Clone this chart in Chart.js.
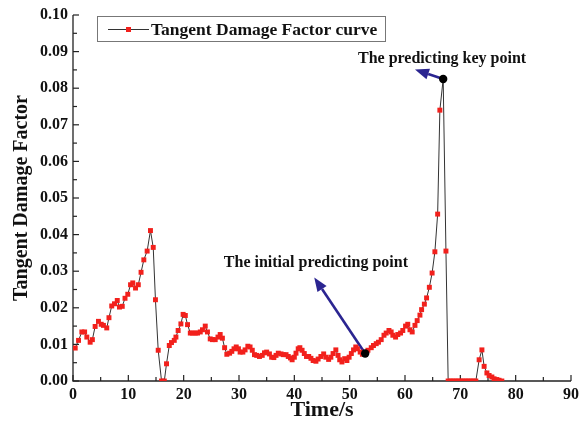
<!DOCTYPE html>
<html>
<head>
<meta charset="utf-8">
<script src="https://cdn.jsdelivr.net/npm/chart.js@4.4.0/dist/chart.umd.min.js"></script>
<style>
html,body{margin:0;padding:0;background:#fff}
</style>
</head>
<body>
<canvas id="myChart" width="585" height="422"></canvas>
<script>
// data
const times = [
    0.4,1.0,1.6,2.1,2.5,3.1,3.5,4.0,4.6,5.1,5.5,6.1,6.5,7.0,7.5,8.0,8.4,8.9,9.4,9.9,
    10.4,10.8,11.3,11.8,12.3,12.8,13.4,14.0,14.5,14.9,15.4,16.0,16.5,16.9,17.4,17.8,18.3,18.6,19.0,19.5,
    19.9,20.3,20.7,21.2,21.6,22.1,22.5,23.0,23.4,23.9,24.3,24.8,25.2,25.7,26.2,26.6,27.0,27.4,27.8,28.3,
    28.7,29.1,29.5,29.9,30.2,30.7,31.1,31.6,32.0,32.4,32.8,33.2,33.7,34.2,34.6,35.0,35.5,35.9,36.3,36.7,
    37.1,37.6,38.0,38.5,38.9,39.3,39.6,40.0,40.3,40.7,41.0,41.4,41.8,42.2,42.6,43.0,43.4,43.9,44.3,44.8,
    45.3,45.7,46.2,46.6,47.0,47.5,47.9,48.2,48.6,49.1,49.5,49.9,50.3,50.7,51.1,51.4,51.9,52.3,52.8,53.3,
    53.9,54.3,54.8,55.2,55.7,56.2,56.6,57.1,57.5,57.8,58.3,58.7,59.2,59.6,60.1,60.5,60.9,61.3,61.8,62.2,
    62.7,63.0,63.5,63.9,64.4,64.9,65.4,65.9,66.3,66.9,67.4,67.8,68.3,68.7,69.2,69.6,70.1,70.5,71.0,71.4,
    71.9,72.3,72.8,73.4,73.9,74.3,74.8,75.2,75.7,76.1,76.6,77.0,77.5
]
const damage = [
    0.0090,0.0111,0.0134,0.0134,0.0120,0.0106,0.0113,0.0149,0.0163,0.0155,0.0152,0.0145,0.0173,0.0205,0.0211,0.0220,0.0202,0.0204,0.0226,0.0237,
    0.0263,0.0268,0.0254,0.0263,0.0297,0.0331,0.0355,0.0411,0.0365,0.0222,0.0084,0,0,0.0047,0.0097,0.0105,0.0111,0.0120,0.0138,0.0156,
    0.0182,0.0179,0.0154,0.0131,0.0131,0.0131,0.0131,0.0134,0.0140,0.0150,0.0134,0.0115,0.0113,0.0113,0.0120,0.0127,0.0117,0.0091,0.0073,0.0076,
    0.0081,0.0088,0.0093,0.0088,0.0079,0.0079,0.0085,0.0095,0.0093,0.0084,0.0072,0.0070,0.0067,0.0070,0.0077,0.0079,0.0074,0.0065,0.0064,0.0070,
    0.0076,0.0074,0.0072,0.0072,0.0067,0.0063,0.0058,0.0065,0.0076,0.0088,0.0091,0.0084,0.0075,0.0067,0.0067,0.0062,0.0056,0.0054,0.0060,0.0067,
    0.0074,0.0065,0.0059,0.0065,0.0075,0.0085,0.0070,0.0058,0.0052,0.0061,0.0056,0.0065,0.0075,0.0085,0.0093,0.0088,0.0079,0.0073,0.0075,0.0084,
    0.0091,0.0097,0.0102,0.0106,0.0113,0.0125,0.0131,0.0138,0.0134,0.0125,0.0120,0.0127,0.0131,0.0138,0.0150,0.0155,0.0140,0.0134,0.0152,0.0165,
    0.0180,0.0195,0.0210,0.0227,0.0256,0.0295,0.0353,0.0456,0.0740,0.0825,0.0355,0,0,0,0,0,0,0,0,0,
    0,0,0,0.0058,0.0085,0.0040,0.0022,0.0015,0.0011,0.0006,0.0004,0.0002,0
]
// the two marked points (initial predicting point, key point)
const keyTimes = [52.8, 66.9]
const keyValues = [0.0075, 0.0825]
// where the arrows point to and where their captions sit
const noteTexts = ['The initial predicting point', 'The predicting key point']
const arrowTipX = [43.6, 61.8]
const arrowTipY = [0.0283, 0.0851]
const noteX = [43.9, 66.7]
const noteY = [0.0323, 0.0879]

const seriesLabel = 'Tangent Damage Factor curve'
const serif = '"Liberation Serif", "Times New Roman", serif'
const red = '#f2201c'
const navy = '#2b2591'

const ctx = document.getElementById('myChart').getContext('2d')

// axes with inward ticks (major + minor)
const axesPlugin = {
    id:'axes',
    beforeDatasetsDraw(chart){
        const {ctx, chartArea:a, scales:{x,y}} = chart
        ctx.save()
        ctx.strokeStyle = '#222'
        ctx.lineWidth = 1.3
        ctx.beginPath()
        ctx.moveTo(a.left, a.top)
        ctx.lineTo(a.left, a.bottom)
        ctx.lineTo(a.right, a.bottom)
        ctx.stroke()
        ctx.lineWidth = 1.2
        const xt = x.ticks.map(t=>t.value)
        xt.forEach((v,i)=>{
            const px = x.getPixelForValue(v)
            ctx.beginPath(); ctx.moveTo(px, a.bottom); ctx.lineTo(px, a.bottom-6); ctx.stroke()
            if(i < xt.length-1){
                const mx = x.getPixelForValue((v+xt[i+1])/2)
                ctx.beginPath(); ctx.moveTo(mx, a.bottom); ctx.lineTo(mx, a.bottom-4); ctx.stroke()
            }
        })
        const yt = y.ticks.map(t=>t.value)
        yt.forEach((v,i)=>{
            const py = y.getPixelForValue(v)
            ctx.beginPath(); ctx.moveTo(a.left, py); ctx.lineTo(a.left+6, py); ctx.stroke()
            if(i < yt.length-1){
                const my = y.getPixelForValue((v+yt[i+1])/2)
                ctx.beginPath(); ctx.moveTo(a.left, my); ctx.lineTo(a.left+4, my); ctx.stroke()
            }
        })
        // arrows from the marked points
        keyTimes.forEach((t,i)=>{
            const x0 = x.getPixelForValue(t), y0 = y.getPixelForValue(keyValues[i])
            const x1 = x.getPixelForValue(arrowTipX[i]), y1 = y.getPixelForValue(arrowTipY[i])
            const ang = Math.atan2(y1-y0, x1-x0)
            const hl = 14, hw = 5.5
            const bx = x1 - hl*Math.cos(ang), by = y1 - hl*Math.sin(ang)
            ctx.strokeStyle = navy
            ctx.fillStyle = navy
            ctx.lineWidth = 2.6
            ctx.beginPath(); ctx.moveTo(x0,y0); ctx.lineTo(bx,by); ctx.stroke()
            ctx.beginPath()
            ctx.moveTo(x1,y1)
            ctx.lineTo(bx + hw*Math.sin(ang), by - hw*Math.cos(ang))
            ctx.lineTo(bx - hw*Math.sin(ang), by + hw*Math.cos(ang))
            ctx.closePath(); ctx.fill()
        })
        ctx.restore()
    },
    afterDatasetsDraw(chart){
        const {ctx, chartArea:a, scales:{x,y}} = chart
        ctx.save()
        ctx.fillStyle = '#111'
        ctx.font = 'bold 16px ' + serif
        ctx.textAlign = 'center'
        ctx.textBaseline = 'middle'
        noteTexts.forEach((s,i)=>{
            ctx.fillText(s, x.getPixelForValue(noteX[i]), y.getPixelForValue(noteY[i]))
        })
        // legend box
        const lx = a.left + 24, ly = a.top + 1, lw = 288, lh = 25
        ctx.fillStyle = '#fff'
        ctx.fillRect(lx, ly, lw, lh)
        ctx.strokeStyle = '#777'
        ctx.lineWidth = 1
        ctx.strokeRect(lx+0.5, ly+0.5, lw, lh)
        const cy = ly + lh/2 + 1
        ctx.strokeStyle = '#333'
        ctx.beginPath(); ctx.moveTo(lx+11, cy); ctx.lineTo(lx+52, cy); ctx.stroke()
        ctx.fillStyle = red
        ctx.fillRect(lx+29, cy-2.5, 5, 5)
        ctx.fillStyle = '#111'
        ctx.font = 'bold 17.5px ' + serif
        ctx.textAlign = 'left'
        ctx.fillText(seriesLabel, lx+54, cy+1)
        ctx.restore()
    }
}

const data = {
    datasets:[{
        label: seriesLabel,
        data: times.map((t,i)=>({x:t, y:damage[i]})),
        borderColor:'#333',
        borderWidth:1,
        pointStyle:'rect',
        pointRadius:3.5,
        pointBackgroundColor:red,
        pointBorderWidth:0,
        tension:0,
        order:1
    },{
        label:'key points',
        data: keyTimes.map((t,i)=>({x:t, y:keyValues[i]})),
        showLine:false,
        pointRadius:4.2,
        pointBackgroundColor:'#000',
        pointBorderWidth:0,
        order:0
    }]
}

const config = {
    type:'line',
    data:data,
    options:{
        responsive:false,
        animation:false,
        layout:{ padding:{ top:15, right:14, left:0, bottom:0 } },
        plugins:{ legend:{ display:false }, tooltip:{ enabled:false } },
        scales:{
            x:{
                type:'linear',
                min:0, max:90,
                grid:{ display:false, drawTicks:false },
                border:{ display:false },
                ticks:{ stepSize:10, padding:4, color:'#111', font:{ family:serif, size:16, weight:'bold' } },
                title:{ display:true, text:'Time/s', color:'#111', padding:{top:0,bottom:0},
                    font:{ family:serif, size:22, weight:'bold', lineHeight:1.1 } },
                afterFit(scale){ scale.height = 41 }
            },
            y:{
                min:0, max:0.1,
                grid:{ display:false, drawTicks:false },
                border:{ display:false },
                ticks:{ stepSize:0.01, padding:5, color:'#111', font:{ family:serif, size:16, weight:'bold' },
                    callback:function(value){ return value.toFixed(2) } },
                title:{ display:true, text:'Tangent Damage Factor', color:'#111', padding:{top:10,bottom:0},
                    font:{ family:serif, size:20, weight:'bold' } },
                afterFit(scale){ scale.width = 73 }
            }
        }
    },
    plugins:[axesPlugin]
}
const myChart = new Chart(ctx, config)
</script>
</body>
</html>
